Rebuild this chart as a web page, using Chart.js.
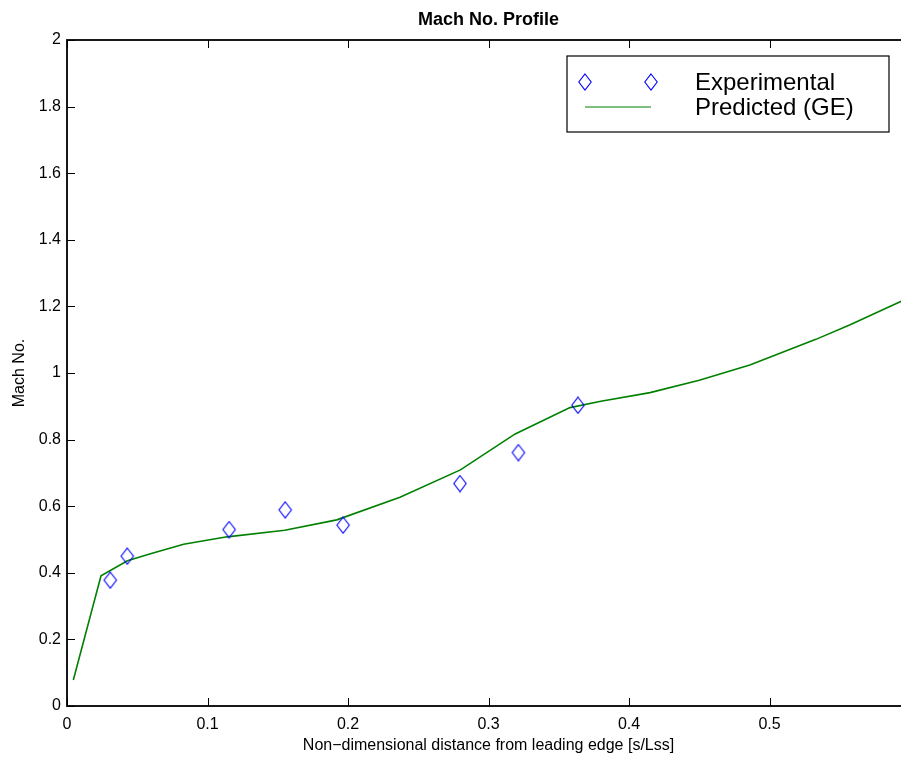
<!DOCTYPE html>
<html>
<head>
<meta charset="utf-8">
<script src="https://cdn.jsdelivr.net/npm/chart.js@4/dist/chart.umd.min.js"></script>
<style>
  html, body { margin: 0; padding: 0; background: #fff; overflow: hidden; }
  #wrap { width: 920px; height: 757px; }
  canvas { display: block; }
</style>
</head>
<body>
<div id="wrap"><canvas id="myChart" width="920" height="757"></canvas></div>
<script>
// Chart data
const expX = [0.0308, 0.0429, 0.1154, 0.1553, 0.1965, 0.2797, 0.3213, 0.3637];
const expMach = [0.378, 0.450, 0.530, 0.589, 0.543, 0.668, 0.761, 0.903];

const predX = [0.0045, 0.0242, 0.043, 0.06, 0.083, 0.114, 0.155, 0.192, 0.237, 0.28,
  0.319, 0.358, 0.38, 0.415, 0.45, 0.486, 0.533, 0.557, 0.593, 0.6];
const predMach = [0.078, 0.391, 0.436, 0.458, 0.486, 0.508, 0.528, 0.559, 0.627, 0.709,
  0.817, 0.896, 0.915, 0.941, 0.978, 1.024, 1.101, 1.144, 1.214, 1.228];

const xTicks = [0, 0.1, 0.2, 0.3, 0.4, 0.5, 0.6];
const yTicks = [0, 0.2, 0.4, 0.6, 0.8, 1, 1.2, 1.4, 1.6, 1.8, 2];
const xTickLabels = ["0", "0.1", "0.2", "0.3", "0.4", "0.5", ""];
const yTickLabels = ["0", "0.2", "0.4", "0.6", "0.8", "1", "1.2", "1.4", "1.6", "1.8", "2"];

const chartTitle = "Mach No. Profile";
const seriesNames = ["Experimental", "Predicted (GE)"];

Chart.defaults.font.family = "'Liberation Sans', Arial, Helvetica, sans-serif";
Chart.defaults.color = "#000";

// MATLAB style diamond marker (taller than wide)
function makeDiamond() {
  const c = document.createElement("canvas");
  c.width = 16;
  c.height = 18;
  const g = c.getContext("2d");
  g.strokeStyle = "#0000ff";
  g.lineWidth = 1.1;
  g.beginPath();
  g.moveTo(8, 1);
  g.lineTo(14.2, 9);
  g.lineTo(8, 17);
  g.lineTo(1.8, 9);
  g.closePath();
  g.stroke();
  return c;
}
const diamond = makeDiamond();

// Frame, inward ticks, title and boxed legend
const matlabFrame = {
  id: "matlabFrame",
  afterDraw(chart) {
    const { ctx, chartArea: a, scales } = chart;
    const tl = 8;
    ctx.save();
    ctx.strokeStyle = "#000";
    ctx.lineWidth = 1;
    ctx.beginPath();
    xTicks.forEach((v) => {
      const px = Math.round(scales.x.getPixelForValue(v)) + 0.5;
      ctx.moveTo(px, a.bottom);
      ctx.lineTo(px, a.bottom - tl);
      ctx.moveTo(px, a.top);
      ctx.lineTo(px, a.top + tl);
    });
    yTicks.forEach((v) => {
      const py = Math.round(scales.y.getPixelForValue(v)) + 0.5;
      ctx.moveTo(a.left, py);
      ctx.lineTo(a.left + tl, py);
      ctx.moveTo(a.right, py);
      ctx.lineTo(a.right - tl, py);
    });
    ctx.stroke();

    ctx.lineWidth = 1.8;
    ctx.strokeRect(a.left, a.top, a.right - a.left, a.bottom - a.top);

    // title
    ctx.fillStyle = "#000";
    ctx.font = "bold 18px 'Liberation Sans', Arial, sans-serif";
    ctx.textAlign = "center";
    ctx.textBaseline = "alphabetic";
    ctx.fillText(chartTitle, (a.left + a.right) / 2, 25);

    // legend box
    ctx.lineWidth = 1.2;
    ctx.fillStyle = "#fff";
    ctx.fillRect(567, 56, 322, 76);
    ctx.strokeRect(567, 56, 322, 76);
    ctx.drawImage(diamond, 585 - 8, 82 - 9);
    ctx.drawImage(diamond, 651 - 8, 82 - 9);
    ctx.strokeStyle = "#008000";
    ctx.lineWidth = 1.2;
    ctx.beginPath();
    ctx.moveTo(585, 107);
    ctx.lineTo(651, 107);
    ctx.stroke();
    ctx.fillStyle = "#000";
    ctx.font = "24px 'Liberation Sans', Arial, sans-serif";
    ctx.textAlign = "left";
    ctx.textBaseline = "alphabetic";
    ctx.fillText(seriesNames[0], 695, 90);
    ctx.fillText(seriesNames[1], 695, 115);
    ctx.restore();
  },
};

const ctx = document.getElementById("myChart");

new Chart(ctx, {
  type: "scatter",
  data: {
    datasets: [
      {
        label: seriesNames[1],
        data: predX.map((x, i) => ({ x: x, y: predMach[i] })),
        showLine: true,
        borderColor: "#008000",
        borderWidth: 1.6,
        pointRadius: 0,
        tension: 0,
        order: 2,
      },
      {
        label: seriesNames[0],
        data: expX.map((x, i) => ({ x: x, y: expMach[i] })),
        showLine: false,
        pointStyle: diamond,
        pointRadius: 7,
        order: 1,
      },
    ],
  },
  options: {
    responsive: false,
    animation: false,
    devicePixelRatio: 1,
    layout: { padding: { top: 40, right: 10, left: 0, bottom: 0 } },
    plugins: {
      legend: { display: false },
      title: { display: false },
      tooltip: { enabled: false },
    },
    scales: {
      x: {
        type: "linear",
        min: 0,
        max: 0.6,
        grid: { display: false, drawTicks: false },
        border: { display: false },
        afterBuildTicks: (s) => { s.ticks = xTicks.map((v) => ({ value: v })); },
        afterFit: (s) => { s.height = 51; },
        ticks: {
          padding: 9,
          maxRotation: 0,
          autoSkip: false,
          font: { size: 16 },
          callback: (v) => xTickLabels[xTicks.findIndex((t) => Math.abs(t - v) < 1e-9)],
        },
        title: {
          display: true,
          text: "Non\u2212dimensional distance from leading edge [s/Lss]",
          font: { size: 16 },
          padding: { top: 0, bottom: 2 },
        },
      },
      y: {
        type: "linear",
        min: 0,
        max: 2,
        grid: { display: false, drawTicks: false },
        border: { display: false },
        afterBuildTicks: (s) => { s.ticks = yTicks.map((v) => ({ value: v })); },
        afterFit: (s) => { s.width = 67; },
        ticks: {
          padding: 6,
          autoSkip: false,
          font: { size: 16 },
          callback: (v) => yTickLabels[yTicks.findIndex((t) => Math.abs(t - v) < 1e-9)],
        },
        title: {
          display: true,
          text: "Mach No.",
          font: { size: 16 },
          padding: { top: 10, bottom: 0 },
        },
      },
    },
  },
  plugins: [matlabFrame],
});
</script>
</body>
</html>
